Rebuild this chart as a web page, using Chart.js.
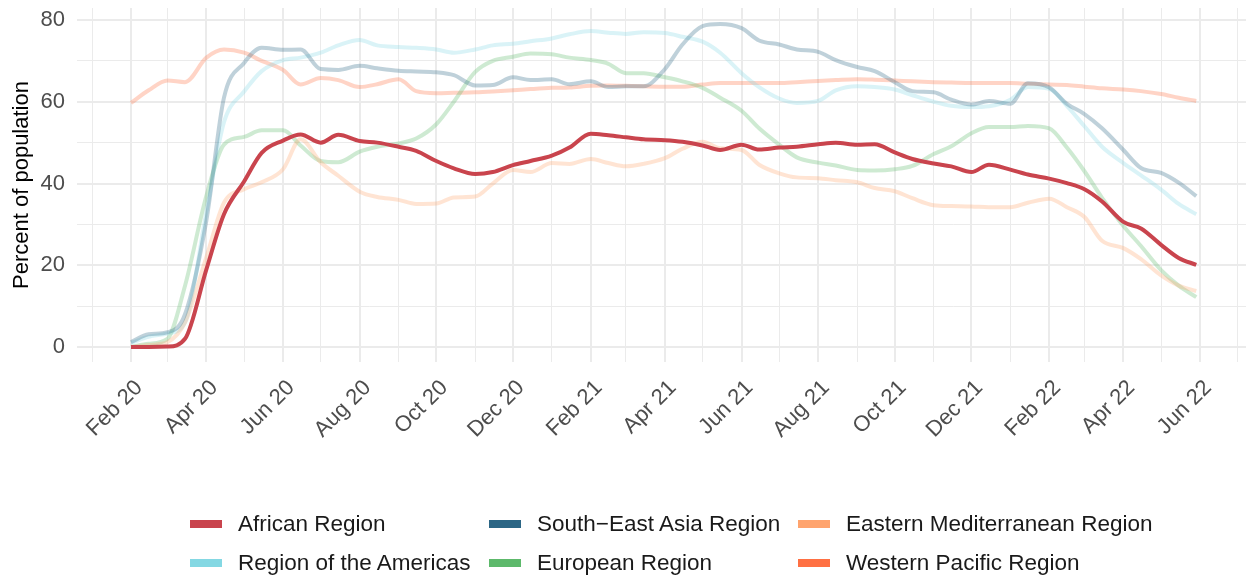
<!DOCTYPE html>
<html><head><meta charset="utf-8">
<script src="https://cdn.jsdelivr.net/npm/chart.js@4/dist/chart.umd.min.js"></script>
<style>
html,body{margin:0;padding:0;background:#fff;}
#wrap{position:relative;width:1249px;height:579px;font-family:"Liberation Sans",Arial,sans-serif;overflow:hidden;}
#c{position:absolute;left:0;top:0;}
#legend{position:absolute;left:190px;top:504px;display:grid;grid-template-columns:299px 309px auto;grid-template-rows:39px 39px;grid-auto-flow:column;}
.item{display:flex;align-items:center;font-size:22.5px;color:#1a1a1a;white-space:nowrap;}
.sw{width:32px;height:8px;margin-right:16px;flex:none;}
</style></head>
<body>
<div id="wrap"><canvas id="c" width="1249" height="579"></canvas><div id="legend"></div></div>
<script>
const dates = [
 '2020-02-01','2020-02-15','2020-03-01','2020-03-15','2020-04-01','2020-04-15','2020-05-01','2020-05-15','2020-06-01','2020-06-15','2020-07-01','2020-07-15','2020-08-01','2020-08-15','2020-09-01','2020-09-15','2020-10-01','2020-10-15','2020-11-01','2020-11-15','2020-12-01','2020-12-15',
 '2021-01-01','2021-01-15','2021-02-01','2021-02-15','2021-03-01','2021-03-15','2021-04-01','2021-04-15','2021-05-01','2021-05-15','2021-06-01','2021-06-15','2021-07-01','2021-07-15','2021-08-01','2021-08-15','2021-09-01','2021-09-15','2021-10-01','2021-10-15','2021-11-01','2021-11-15','2021-12-01','2021-12-15',
 '2022-01-01','2022-01-15','2022-02-01','2022-02-15','2022-03-01','2022-03-15','2022-04-01','2022-04-15','2022-05-01','2022-05-15','2022-05-29'
];
const african = [0,0,0.1,2,19,32.5,40.5,47.5,50.5,52,50,51.9,50.4,50,49,48,45.5,43.7,42.3,42.8,44.5,45.5,
 46.8,48.8,52.2,51.8,51.3,50.8,50.6,50.2,49.3,48.2,49.5,48.3,48.8,49,49.6,50,49.5,49.6,47.6,46,44.9,44.2,42.8,44.6,
 43.4,42.2,41.2,40.1,38.6,35.6,30.6,29,25,21.8,20.1];
const southEastAsia = [1.2,3.1,3.6,8,31,61,69.5,73.2,72.7,72.8,68,67.8,68.8,68.2,67.6,67.4,67.2,66.5,64,64.1,66,65.3,
 65.5,64.3,65,63.6,63.8,63.8,68,74,78.5,79,78,75,74,72.8,72.2,70.2,68.5,67.5,64.8,62.6,62.3,60.5,59.3,60.2,
 59.5,64.5,63.5,59.5,57,53.5,48.2,43.8,42.6,40.2,36.9];
const easternMediterranean = [0,0.5,1.2,6,22,35.3,38.6,40.3,43.5,50.8,45.2,41.9,38,36.7,36,35,35.1,36.6,36.8,40,43.3,42.8,
 45,44.8,46,45,44.2,44.8,46.2,48.5,50.2,48.6,48.2,44.6,42.5,41.5,41.3,40.8,40.3,38.9,38.1,36.4,34.7,34.5,34.4,34.2,
 34.2,35.3,36.3,34.2,31.8,26,24.2,21.5,17.5,15,13.7];
const americas = [1,2.5,3.3,6,33,55,62.5,67.5,70.2,70.8,72,73.8,75.1,73.8,73.4,73.2,72.8,72,72.8,73.8,74.2,74.8,
 75.5,76.5,77.3,76.9,76.6,77,76.8,75.9,74.7,72,67,63.6,60.8,59.7,60.2,62.8,63.8,63.6,63,61.6,60,59,58.7,58.9,
 60.5,63.6,63.2,59,54,49,45,42,38.5,35,32.5];
const european = [0,0.8,2,15,37,49.5,51.4,53,53,49.3,45.5,45.2,47.8,49,49.8,51,54.5,60,67.3,70,71,71.8,
 71.6,70.8,70.2,69.3,67,67,66,65,63.4,61,57.8,53.5,49.5,46.4,45.1,44.4,43.3,43.2,43.5,44.3,47.2,49.1,52.3,53.8,
 53.8,54.1,53.5,48.8,43,36.5,29.6,24.7,18.8,15,12.2];
const westernPacific = [59.7,62.8,65.2,64.8,70.8,72.8,72,70,67.8,64.2,65.8,65.3,63.6,64.3,65.5,62.6,62.1,62.2,62.3,62.5,62.8,63.1,
 63.4,63.5,63.9,64,63.9,63.8,63.7,63.7,64.2,64.6,64.6,64.6,64.6,64.8,65.1,65.3,65.5,65.4,65.2,65,64.8,64.7,64.6,64.6,
 64.6,64.4,64.2,64.1,63.7,63.3,63,62.6,61.9,61,60.2];

const tickDates = ['2020-02-01','2020-04-01','2020-06-01','2020-08-01','2020-10-01','2020-12-01','2021-02-01','2021-04-01','2021-06-01','2021-08-01','2021-10-01','2021-12-01','2022-02-01','2022-04-01','2022-06-01'];
const tickLabels = ['Feb 20','Apr 20','Jun 20','Aug 20','Oct 20','Dec 20','Feb 21','Apr 21','Jun 21','Aug 21','Oct 21','Dec 21','Feb 22','Apr 22','Jun 22'];
const yTickValues = [0,20,40,60,80];

const seriesNames = ['African Region','South\u2212East Asia Region','Eastern Mediterranean Region','Region of the Americas','European Region','Western Pacific Region'];
const seriesValues = [african, southEastAsia, easternMediterranean, americas, european, westernPacific];
const seriesColors = ['#C9444D','#2C6685','#FFA46E','#84D8E3','#5DB96B','#FF7043'];
const seriesAlpha = [1,0.3,0.3,0.3,0.3,0.3];
const legendOrder = [0,3,1,4,2,5];

const base = Date.UTC(2020,0,1);
const toDay = s => Math.round((Date.parse(s + 'T00:00:00Z') - base) / 86400000);
const xs = dates.map(toDay);
const labelMap = {};
tickDates.forEach((d,i) => { labelMap[toDay(d)] = tickLabels[i]; });
const monthDays = [];
for (let y = 2020; y <= 2022; y++) for (let m = 0; m < 12; m++) {
  const d = Math.round((Date.UTC(y,m,1) - base)/86400000);
  if (d >= -12 && d <= 918) monthDays.push(d);
}
function rgba(hex,a){const n=parseInt(hex.slice(1),16);return `rgba(${n>>16},${(n>>8)&255},${n&255},${a})`;}

Chart.defaults.font.family = "'Liberation Sans', Arial, sans-serif";
const FONT = "'Liberation Sans', Arial, sans-serif";

const datasets = seriesValues.map((vals,i) => ({
  label: seriesNames[i],
  data: vals.map((v,j) => ({x: xs[j], y: v})),
  borderColor: rgba(seriesColors[i], seriesAlpha[i]),
  backgroundColor: rgba(seriesColors[i], seriesAlpha[i]),
  borderWidth: 4,
  pointRadius: 0,
  fill: false,
  cubicInterpolationMode: 'monotone',
  borderJoinStyle: 'round',
  borderCapStyle: 'butt'
}));

function zeroPad(s){ s.paddingTop = 0; s.paddingBottom = 0; s.paddingLeft = 0; s.paddingRight = 0; }

new Chart(document.getElementById('c'), {
  type: 'line',
  data: { datasets },
  options: {
    responsive: false,
    animation: false,
    devicePixelRatio: 1,
    layout: { padding: { top: 8, right: 3, bottom: 107, left: 0 } },
    plugins: { legend: { display: false }, tooltip: { enabled: false } },
    scales: {
      x: {
        type: 'linear', min: -12, max: 918.6,
        afterBuildTicks: s => { s.ticks = monthDays.map(v => ({ value: v })); },
        afterFit: s => { s.height = 110; zeroPad(s); },
        border: { display: false },
        grid: { color: '#EBEBEB', lineWidth: ctx => (ctx.tick && labelMap[ctx.tick.value]) ? 2 : 1, drawTicks: false },
        ticks: { autoSkip: false, maxRotation: 45, minRotation: 45, padding: 13, labelOffset: 8, color: '#4D4D4D',
                 font: { size: 22, family: FONT }, callback: v => labelMap[v] || '' }
      },
      y: {
        min: -3.67, max: 82.94,
        afterBuildTicks: s => { s.ticks = [0,10,20,30,40,50,60,70,80].map(v => ({ value: v })); },
        afterFit: s => { s.width = 77; zeroPad(s); },
        border: { display: false },
        grid: { color: '#EBEBEB', lineWidth: ctx => (ctx.tick && yTickValues.includes(ctx.tick.value)) ? 2 : 1, drawTicks: false },
        ticks: { padding: 12, color: '#4D4D4D', font: { size: 22, family: FONT },
                 callback: v => yTickValues.includes(v) ? String(v) : '' },
        title: { display: true, text: 'Percent of population', color: '#000', font: { size: 22, family: FONT }, padding: { top: 9, bottom: 0 } }
      }
    }
  }
});

const leg = document.getElementById('legend');
legendOrder.forEach(i => {
  const it = document.createElement('div'); it.className = 'item';
  const sw = document.createElement('span'); sw.className = 'sw'; sw.style.background = seriesColors[i];
  const tx = document.createElement('span'); tx.textContent = seriesNames[i];
  it.appendChild(sw); it.appendChild(tx); leg.appendChild(it);
});
</script>
</body></html>
